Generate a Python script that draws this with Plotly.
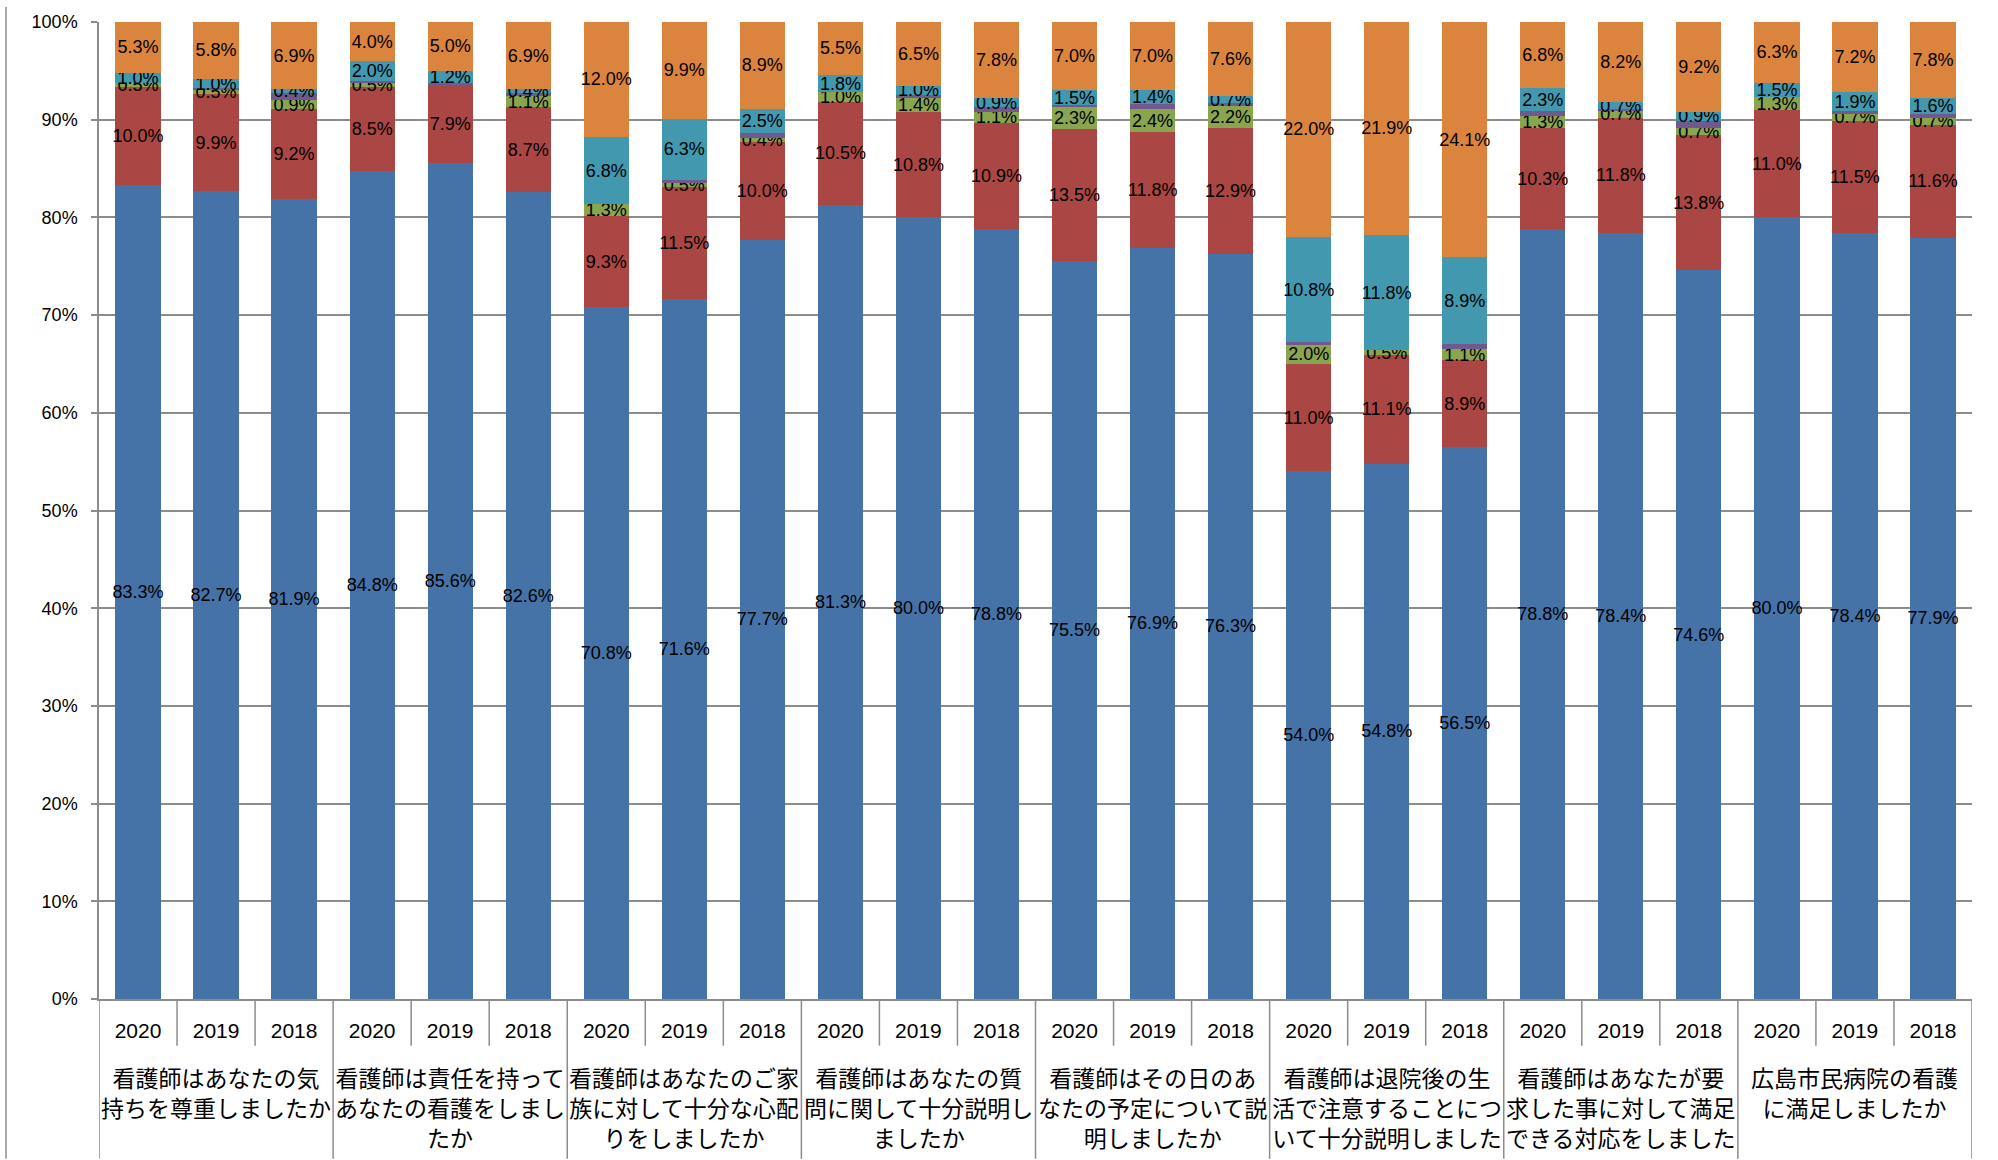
import plotly.graph_objects as go

groups = [
    "看護師はあなたの気<br>持ちを尊重しましたか",
    "看護師は責任を持って<br>あなたの看護をしまし<br>たか",
    "看護師はあなたのご家<br>族に対して十分な心配<br>りをしましたか",
    "看護師はあなたの質<br>問に関して十分説明し<br>ましたか",
    "看護師はその日のあ<br>なたの予定について説<br>明しましたか",
    "看護師は退院後の生<br>活で注意することにつ<br>いて十分説明しました",
    "看護師はあなたが要<br>求した事に対して満足<br>できる対応をしました",
    "広島市民病院の看護<br>に満足しましたか",
]
years = ["2020", "2019", "2018"]

s_blue = [83.3, 82.7, 81.9, 84.8, 85.6, 82.6, 70.8, 71.6, 77.7, 81.3, 80.0, 78.8,
          75.5, 76.9, 76.3, 54.0, 54.8, 56.5, 78.8, 78.4, 74.6, 80.0, 78.4, 77.9]
s_red = [10.0, 9.9, 9.2, 8.5, 7.9, 8.7, 9.3, 11.5, 10.0, 10.5, 10.8, 10.9,
         13.5, 11.8, 12.9, 11.0, 11.1, 8.9, 10.3, 11.8, 13.8, 11.0, 11.5, 11.6]
s_green = [0.5, 0.5, 0.9, 0.5, 0.0, 1.1, 1.3, 0.5, 0.4, 1.0, 1.4, 1.1,
           2.3, 2.4, 2.2, 2.0, 0.5, 1.1, 1.3, 0.7, 0.7, 1.3, 0.7, 0.7]
s_purple = [0.0, 0.1, 0.7, 0.2, 0.3, 0.3, 0.0, 0.2, 0.5, 0.0, 0.3, 0.5,
            0.2, 0.5, 0.3, 0.2, 0.0, 0.5, 0.5, 0.2, 0.8, 0.0, 0.3, 0.4]
s_teal = [1.0, 1.0, 0.4, 2.0, 1.2, 0.4, 6.8, 6.3, 2.5, 1.8, 1.0, 0.9,
          1.5, 1.4, 0.7, 10.8, 11.8, 8.9, 2.3, 0.7, 0.9, 1.5, 1.9, 1.6]
s_orange = [5.3, 5.8, 6.9, 4.0, 5.0, 6.9, 12.0, 9.9, 8.9, 5.5, 6.5, 7.8,
            7.0, 7.0, 7.6, 22.0, 21.9, 24.1, 6.8, 8.2, 9.2, 6.3, 7.2, 7.8]

series = [
    ("系列1", s_blue, "#4572A7", True),
    ("系列2", s_red, "#AA4643", True),
    ("系列3", s_green, "#89A54E", True),
    ("系列4", s_purple, "#71588F", False),
    ("系列5", s_teal, "#4198AF", True),
    ("系列6", s_orange, "#DB843D", True),
]

n = len(groups) * len(years)
xpos = list(range(n))
yearlabels = [years[i % 3] for i in range(n)]

fig = go.Figure()
for name, vals, color, show in series:
    fig.add_trace(go.Bar(
        x=xpos, y=vals, name=name,
        marker=dict(color=color, line=dict(width=0)),
        text=[f"{v:.1f}%" for v in vals] if show else None,
        textposition="inside" if show else "none",
        insidetextanchor="middle",
        constraintext="none",
        textangle=0,
        textfont=dict(family="Liberation Sans, Arial, sans-serif", size=18, color="black"),
        showlegend=False,
        hoverinfo="skip",
    ))

PH = 1160 - 15 - 161
grey = "#8C8C8C"

shapes = []
# dividers between years (short) and between groups (long)
for i in range(n + 1):
    if i % 3 == 0:
        y1 = -161 / PH
    else:
        y1 = -47 / PH
    shapes.append(dict(type="line", xref="x", yref="paper", x0=i - 0.5, x1=i - 0.5,
                       y0=0, y1=y1, line=dict(color=grey, width=1.5)))
# left chart border
shapes.append(dict(type="line", xref="paper", yref="paper", x0=(6 - 99) / 1873, x1=(6 - 99) / 1873,
                   y0=-161 / PH, y1=1 + 15 / PH, line=dict(color=grey, width=1.5)))

annotations = []
for g, label in enumerate(groups):
    annotations.append(dict(
        x=g * 3 + 1, xref="x", y=0, yref="paper", yanchor="top", yshift=-59,
        text=label, showarrow=False, align="center",
        font=dict(family="Noto Sans CJK JP, sans-serif", size=23, color="black"),
    ))

fig.update_layout(
    barmode="stack",
    bargap=0.42,
    width=1998, height=1160,
    margin=dict(l=99, r=26, t=15, b=161, pad=0),
    paper_bgcolor="white", plot_bgcolor="white",
    shapes=shapes,
    annotations=annotations,
    xaxis=dict(
        range=[-0.5, n - 0.5],
        tickmode="array", tickvals=xpos, ticktext=yearlabels,
        ticks="", showgrid=False, zeroline=False,
        showline=True, linecolor=grey, linewidth=1.5,
        tickfont=dict(family="Liberation Sans, Arial, sans-serif", size=21, color="black"),
        ticklabelstandoff=12,
    ),
    yaxis=dict(
        range=[0, 100],
        tickmode="array", tickvals=list(range(0, 101, 10)),
        ticktext=[f"{v}%" for v in range(0, 101, 10)],
        showgrid=True, gridcolor=grey, gridwidth=1.5,
        zeroline=False,
        showline=True, linecolor=grey, linewidth=1.5,
        ticks="outside", ticklen=6, tickcolor=grey, tickwidth=1.5,
        tickfont=dict(family="Liberation Sans, Arial, sans-serif", size=18, color="black"),
        ticklabelstandoff=10,
    ),
    font=dict(family="Liberation Sans, Noto Sans CJK JP, sans-serif"),
)

fig.write_html(
    "out.html",
    config={"displayModeBar": False},
    post_script="document.body.style.margin='0';document.body.style.overflow='hidden';",
)
